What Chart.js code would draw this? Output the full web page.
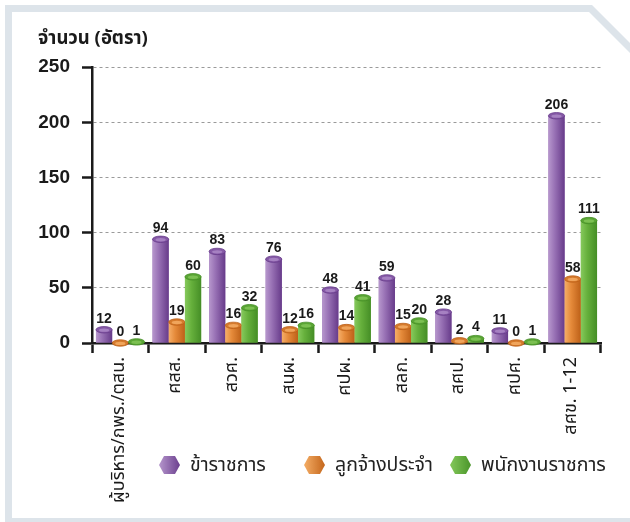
<!DOCTYPE html>
<html lang="th">
<head>
  <meta charset="UTF-8">
  <title>จำนวนอัตรากำลัง</title>
  <script src="https://cdn.jsdelivr.net/npm/chart.js"></script>
  <style>
    html, body { margin: 0; padding: 0; background: #fff; }
    body {
      width: 630px; height: 522px; overflow: hidden; position: relative;
      font-family: "Noto Sans Thai", "Noto Sans", "DejaVu Sans", sans-serif;
    }
    /* กรอบพื้นหลังมุมตัด */
    .frame {
      position: absolute; left: 5px; top: 5px; width: 640px; height: 530px;
      background: #dde4ea;
      clip-path: polygon(0 0, 587px 0, 640px 53px, 640px 100%, 0 100%);
    }
    .inner {
      position: absolute; left: 12px; top: 12px; width: 640px; height: 506px;
      background: #fff;
      clip-path: polygon(0 0, 577px 0, 628px 51px, 628px 100%, 0 100%);
    }
    #chart { position: absolute; left: 0; top: 0; }
    .legend-item {
      position: absolute; top: 451px; height: 28px;
      display: flex; align-items: center; gap: 10px;
      font-size: 19.5px; color: #222;
    }
  </style>
</head>
<body>
  <div class="frame"></div>
  <div class="inner"></div>
  <canvas id="chart" width="630" height="522"></canvas>

  <div class="legend-item" style="left:159px">
    <svg width="21" height="18"><defs><linearGradient id="g0"><stop offset="0" stop-color="#b596cc"/><stop offset="1" stop-color="#6b3f8e"/></linearGradient></defs><polygon points="0,9 5,0 16,0 21,9 16,18 5,18" fill="url(#g0)"/></svg>
    <span id="lg0"></span>
  </div>
  <div class="legend-item" style="left:304px">
    <svg width="21" height="18"><defs><linearGradient id="g1"><stop offset="0" stop-color="#f4ad66"/><stop offset="1" stop-color="#c4661b"/></linearGradient></defs><polygon points="0,9 5,0 16,0 21,9 16,18 5,18" fill="url(#g1)"/></svg>
    <span id="lg1"></span>
  </div>
  <div class="legend-item" style="left:450px">
    <svg width="21" height="18"><defs><linearGradient id="g2"><stop offset="0" stop-color="#84c85a"/><stop offset="1" stop-color="#4a952a"/></linearGradient></defs><polygon points="0,9 5,0 16,0 21,9 16,18 5,18" fill="url(#g2)"/></svg>
    <span id="lg2"></span>
  </div>

  <script>
    // ข้อมูล
    const categories = ['ผู้บริหาร/กพร./ตสน.', 'ศสส.', 'สวศ.', 'สนผ.', 'ศปผ.', 'สลก.', 'สศป.', 'ศปศ.', 'สศข. 1-12'];
    const civilServants = [12, 94, 83, 76, 48, 59, 28, 11, 206];
    const permanentEmployees = [0, 19, 16, 12, 14, 15, 2, 0, 58];
    const governmentEmployees = [1, 60, 32, 16, 41, 20, 4, 1, 111];
    const seriesNames = ['ข้าราชการ', 'ลูกจ้างประจำ', 'พนักงานราชการ'];
    const yTicks = [0, 50, 100, 150, 200, 250];
    const axisTitle = 'จำนวน (อัตรา)';

    // สีทรงกระบอก
    const shades = [
      { light: '#b797cd', mid: '#9770b4', dark: '#673b8a', top: '#8559a6', cap: '#a681c2' },
      { light: '#f5ae68', mid: '#e58a3a', dark: '#bd6018', top: '#d57a2c', cap: '#f0a55c' },
      { light: '#86c95c', mid: '#66b03c', dark: '#458e26', top: '#5aa535', cap: '#7cc052' }
    ];

    seriesNames.forEach((n, i) => { document.getElementById('lg' + i).textContent = n; });

    const thaiFont = '"Noto Sans Thai", "Noto Sans", "DejaVu Sans", sans-serif';
    const numFont = '"Liberation Sans", Arial, sans-serif';

    // วาดเงาทรงกระบอก + ฝาด้านบน + ตัวเลข
    const cylinder = {
      id: 'cylinder',
      afterDatasetsDraw(chart) {
        const ctx = chart.ctx;
        chart.data.datasets.forEach((ds, i) => {
          const meta = chart.getDatasetMeta(i);
          const c = shades[i];
          meta.data.forEach((bar, j) => {
            const p = bar.getProps(['x', 'y', 'base', 'width'], true);
            const l = p.x - p.width / 2;
            ctx.save();
            if (p.base - p.y > 0) {
              const g = ctx.createLinearGradient(l, 0, l + p.width, 0);
              g.addColorStop(0, c.light);
              g.addColorStop(0.4, c.mid);
              g.addColorStop(1, c.dark);
              ctx.fillStyle = g;
              ctx.fillRect(l, p.y, p.width, p.base - p.y);
            }
            ctx.beginPath();
            ctx.ellipse(p.x, p.y, p.width / 2, 3.2, 0, 0, Math.PI * 2);
            ctx.fillStyle = c.top;
            ctx.fill();
            ctx.strokeStyle = c.dark;
            ctx.lineWidth = 0.8;
            ctx.stroke();
            ctx.beginPath();
            ctx.ellipse(p.x, p.y + 0.4, p.width / 2 - 3, 1.7, 0, 0, Math.PI * 2);
            ctx.fillStyle = c.cap;
            ctx.fill();
            ctx.fillStyle = '#1a1a1a';
            ctx.font = 'bold 14px ' + numFont;
            ctx.textAlign = 'center';
            ctx.textBaseline = 'bottom';
            ctx.fillText(ds.data[j], p.x, p.y - 4);
            ctx.restore();
          });
        });
      }
    };

    const series = [civilServants, permanentEmployees, governmentEmployees];

    new Chart(document.getElementById('chart').getContext('2d'), {
      type: 'bar',
      data: {
        labels: categories,
        datasets: series.map((d, i) => ({
          label: seriesNames[i],
          data: d,
          backgroundColor: shades[i].mid,
          borderWidth: 0,
          categoryPercentage: 0.86,
          barPercentage: 1
        }))
      },
      options: {
        responsive: false,
        animation: false,
        devicePixelRatio: 1,
        layout: { padding: { left: 38, right: 29, top: 0, bottom: 0 } },
        plugins: {
          legend: { display: false },
          tooltip: { enabled: false },
          title: {
            display: true,
            text: axisTitle,
            align: 'start',
            color: '#1a1a1a',
            font: { family: thaiFont, size: 18.5, weight: 'bold' },
            padding: { top: 29, bottom: 16 }
          }
        },
        scales: {
          x: {
            z: 1,
            afterFit: s => { s.height = 179; },
            grid: {
              drawOnChartArea: false,
              drawTicks: true,
              tickLength: 10,
              tickWidth: 2.5,
              tickColor: '#1a1a1a'
            },
            border: { display: true, color: '#1a1a1a', width: 2.5 },
            ticks: {
              minRotation: 90,
              maxRotation: 90,
              padding: 4,
              color: '#1a1a1a',
              font: { family: thaiFont, size: 18 }
            }
          },
          y: {
            min: 0,
            max: 250,
            afterFit: s => { s.width = 54; },
            afterBuildTicks: s => { s.ticks = yTicks.map(v => ({ value: v })); },
            grid: {
              color: ctx => ctx.tick && ctx.tick.value === 0 ? 'rgba(0,0,0,0)' : '#9a9a9a',
              lineWidth: 1,
              tickColor: '#1a1a1a',
              tickWidth: 2.5,
              tickLength: 10,
              tickBorderDash: []
            },
            border: { display: true, color: '#1a1a1a', width: 2.5, dash: [3, 3] },
            ticks: {
              padding: 12,
              color: '#1a1a1a',
              font: { family: numFont, size: 19, weight: 'bold' }
            }
          }
        }
      },
      plugins: [cylinder]
    });
  </script>
</body>
</html>
